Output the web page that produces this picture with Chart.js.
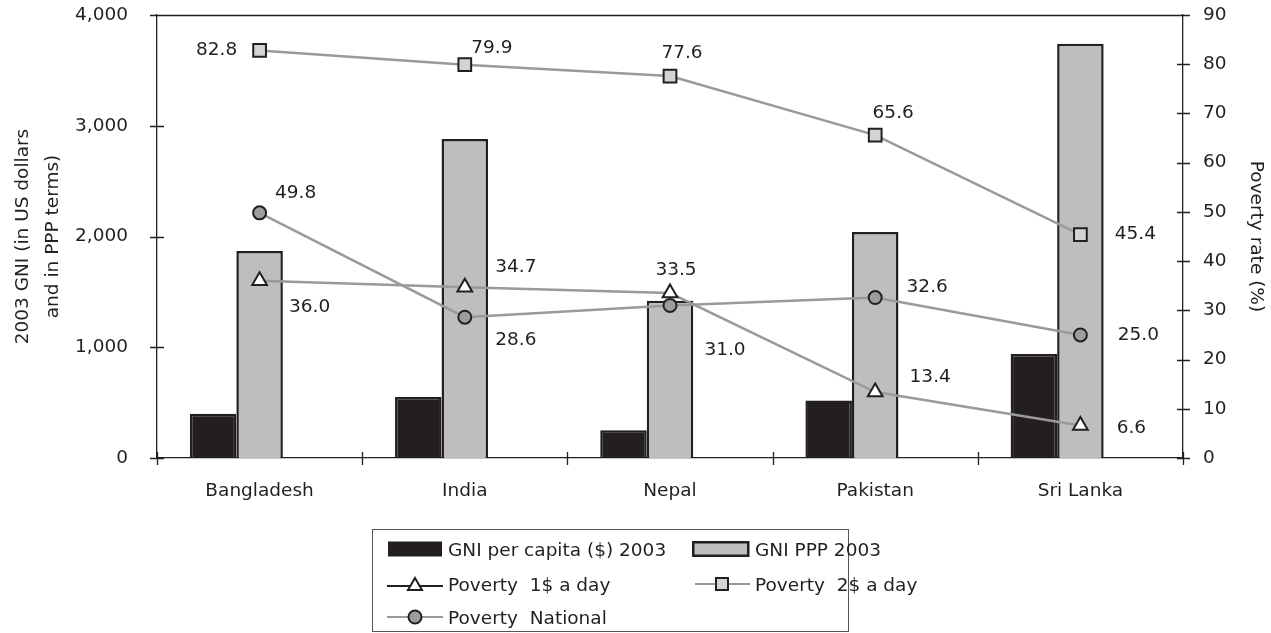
<!DOCTYPE html>
<html>
<head>
<meta charset="utf-8">
<script src="https://cdn.jsdelivr.net/npm/chart.js@4.4.1/dist/chart.umd.min.js"></script>
<style>
  body { margin: 0; background: #fff; }
  #wrap { position: relative; width: 1271px; height: 633px; }
  #legend {
    position: absolute; left: 372px; top: 529px; width: 477px; height: 103px;
    border: 1px solid #555; box-sizing: border-box;
    font: 18.5px "DejaVu Sans"; color: #231f20;
  }
  .item { position: absolute; display: flex; align-items: center; height: 24px; white-space: nowrap; }
  .item svg { margin-right: 5px; }
</style>
</head>
<body>
<div id="wrap">
  <canvas id="chart" width="1271" height="633"></canvas>
  <div id="legend">
    <div class="item" style="left:14px;top:7px">
      <svg width="56" height="16"><rect x="1" y="0.5" width="54" height="15" fill="#231f20"/></svg>GNI per capita ($) 2003
    </div>
    <div class="item" style="left:319px;top:7px">
      <svg width="58" height="16"><rect x="1.25" y="1.25" width="55" height="13.5" fill="#bdbec0" stroke="#231f20" stroke-width="2.5"/></svg>GNI PPP 2003
    </div>
    <div class="item" style="left:14px;top:42px">
      <svg width="56" height="20"><line x1="0" y1="12" x2="56" y2="12" stroke="#231f20" stroke-width="2"/><polygon points="28,4 35,16 21,16" fill="#fff" stroke="#231f20" stroke-width="2"/></svg>Poverty&nbsp; 1$ a day
    </div>
    <div class="item" style="left:319px;top:42px">
      <svg width="58" height="20"><line x1="3" y1="10" x2="58" y2="10" stroke="#9a9a9a" stroke-width="2"/><rect x="24" y="4" width="12" height="12" fill="#d4d4d4" stroke="#231f20" stroke-width="2"/></svg>Poverty&nbsp; 2$ a day
    </div>
    <div class="item" style="left:14px;top:75px">
      <svg width="56" height="20"><line x1="0" y1="10" x2="56" y2="10" stroke="#9a9a9a" stroke-width="2"/><circle cx="28" cy="10" r="6.5" fill="#9d9d9d" stroke="#231f20" stroke-width="2"/></svg>Poverty&nbsp; National
    </div>
  </div>
</div>
<script>
const countries = ["Bangladesh", "India", "Nepal", "Pakistan", "Sri Lanka"];
const gniPerCapita = [400, 550, 250, 520, 940];
const gniPPP = [1870, 2880, 1420, 2040, 3740];
const poverty1 = [36.0, 34.7, 33.5, 13.4, 6.6];
const poverty2 = [82.8, 79.9, 77.6, 65.6, 45.4];
const povertyNational = [49.8, 28.6, 31.0, 32.6, 25.0];

const leftTicks = [0, 1000, 2000, 3000, 4000];
const rightTicks = [0, 10, 20, 30, 40, 50, 60, 70, 80, 90];

// where each value label sits, relative to its point
const offsets1 = [[50, 26], [51, -20], [6, -23], [55, -15], [51, 3]];
const offsets2 = [[-43, 0], [27, -17], [12, -23], [18, -22], [55, 0]];
const offsetsNat = [[36, -20], [51, 23], [55, 45], [52, -10], [58, 0]];

const ink = "#231f20";
const lineGray = "#9a9a9a";

Chart.defaults.font.family = '"DejaVu Sans"';
Chart.defaults.font.size = 18.5;
Chart.defaults.color = ink;

const valueLabels = {
  id: "valueLabels",
  afterDatasetsDraw(chart) {
    const ctx = chart.ctx;
    ctx.save();
    ctx.font = '18.5px "DejaVu Sans"';
    ctx.fillStyle = ink;
    ctx.textAlign = "center";
    ctx.textBaseline = "middle";
    chart.data.datasets.forEach((ds, i) => {
      if (!ds.labelOffsets) return;
      chart.getDatasetMeta(i).data.forEach((pt, j) => {
        const o = ds.labelOffsets[j];
        ctx.fillText(ds.data[j].toFixed(1), pt.x + o[0], pt.y + o[1]);
      });
    });
    ctx.restore();
  }
};

const axisTicks = {
  id: "axisTicks",
  afterDraw(chart) {
    const { ctx, chartArea: a, scales } = chart;
    ctx.save();
    ctx.strokeStyle = ink;
    ctx.lineWidth = 1.3;
    ctx.beginPath();
    // top frame
    ctx.moveTo(a.left, a.top + 0.5);
    ctx.lineTo(a.right, a.top + 0.5);
    leftTicks.forEach(v => {
      const y = Math.round(scales.y.getPixelForValue(v)) + 0.5;
      ctx.moveTo(a.left - 7, y); ctx.lineTo(a.left + 7, y);
    });
    rightTicks.forEach(v => {
      const y = Math.round(scales.y1.getPixelForValue(v)) + 0.5;
      ctx.moveTo(a.right - 6, y); ctx.lineTo(a.right + 7, y);
    });
    const step = (a.right - a.left) / countries.length;
    for (let i = 0; i <= countries.length; i++) {
      const x = Math.round(a.left + i * step) + 0.5;
      ctx.moveTo(x, a.bottom - 6); ctx.lineTo(x, a.bottom + 7);
    }
    ctx.stroke();
    ctx.restore();
  }
};

new Chart(document.getElementById("chart"), {
  type: "bar",
  data: {
    labels: countries,
    datasets: [
      {
        type: "line", label: "Poverty 2$ a day", data: poverty2, yAxisID: "y1", order: 0,
        borderColor: lineGray, borderWidth: 2.5, pointStyle: "rect", pointRadius: 9,
        pointBackgroundColor: "#d4d4d4", pointBorderColor: ink, pointBorderWidth: 2,
        labelOffsets: offsets2
      },
      {
        type: "line", label: "Poverty National", data: povertyNational, yAxisID: "y1", order: 0,
        borderColor: lineGray, borderWidth: 2.5, pointStyle: "circle", pointRadius: 6.5,
        pointBackgroundColor: "#9d9d9d", pointBorderColor: ink, pointBorderWidth: 2,
        labelOffsets: offsetsNat
      },
      {
        type: "line", label: "Poverty 1$ a day", data: poverty1, yAxisID: "y1", order: 0,
        borderColor: lineGray, borderWidth: 2.5, pointStyle: "triangle", pointRadius: 8.5,
        pointBackgroundColor: "#fff", pointBorderColor: ink, pointBorderWidth: 2,
        labelOffsets: offsets1
      },
      {
        label: "GNI per capita ($) 2003", data: gniPerCapita, yAxisID: "y", order: 1,
        backgroundColor: ink, borderColor: ink, borderWidth: 2.5
      },
      {
        label: "GNI PPP 2003", data: gniPPP, yAxisID: "y", order: 1,
        backgroundColor: "#bdbec0", borderColor: ink, borderWidth: 2.5
      },
      {
        // empty slot so the PPP bar sits on the category centre, as in the original
        label: "", data: countries.map(() => null), yAxisID: "y", order: 1,
        backgroundColor: "rgba(0,0,0,0)"
      }
    ]
  },
  options: {
    responsive: false,
    animation: false,
    devicePixelRatio: 1,
    layout: { padding: { top: 15, left: 0, right: 0, bottom: 0 } },
    datasets: { bar: { categoryPercentage: 0.68, barPercentage: 1.0 } },
    plugins: { legend: { display: false }, tooltip: { enabled: false } },
    scales: {
      x: {
        grid: { display: false, drawTicks: false },
        border: { display: true, color: ink, width: 1.3 },
        ticks: { padding: 22, maxRotation: 0 },
        afterFit: s => { s.height = 175; s.paddingLeft = 0; s.paddingRight = 0; }
      },
      y: {
        position: "left", min: 0, max: 4000,
        grid: { display: false, drawTicks: false },
        border: { display: true, color: ink, width: 1.3 },
        ticks: { stepSize: 1000, padding: 29, callback: v => v.toLocaleString("en-US") },
        title: {
          display: true, text: ["2003 GNI (in US dollars", "and in PPP terms)"],
          font: { size: 18.5, lineHeight: 1.62 }, padding: { top: 8, bottom: 0 }
        },
        afterFit: s => { s.width = 157; s.paddingTop = 0; s.paddingBottom = 0; }
      },
      y1: {
        position: "right", min: 0, max: 90,
        grid: { display: false, drawTicks: false },
        border: { display: true, color: ink, width: 1.3 },
        ticks: { stepSize: 10, padding: 20 },
        title: {
          display: true, text: "Poverty rate (%)",
          font: { size: 18.5, lineHeight: 1.2 }, padding: { top: 4, bottom: 0 }
        },
        afterFit: s => { s.width = 88; s.paddingTop = 0; s.paddingBottom = 0; }
      }
    }
  },
  plugins: [valueLabels, axisTicks]
});
</script>
</body>
</html>
